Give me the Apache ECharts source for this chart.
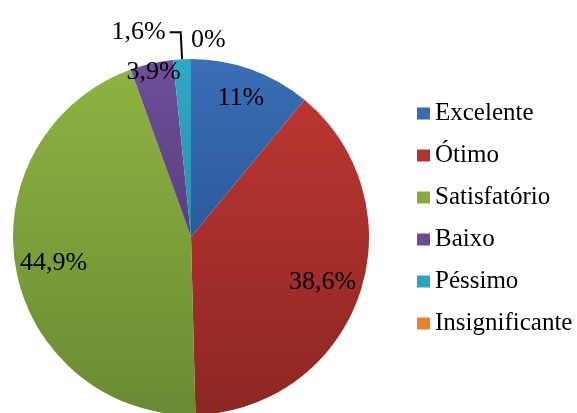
<!DOCTYPE html>
<html><head><meta charset="utf-8">
<script src="https://cdn.jsdelivr.net/npm/echarts@6/dist/echarts.min.js"></script>
<style>html,body{margin:0;padding:0;background:#fff}#c{width:577px;height:413px}</style>
</head><body><div id="c"></div>
<script>
const categories = ['Excelente', 'Ótimo', 'Satisfatório', 'Baixo', 'Péssimo', 'Insignificante'];
const values = [11, 38.6, 44.9, 3.9, 1.6, 0];
const valueLabels = ['11%', '38,6%', '44,9%', '3,9%', '1,6%', '0%'];

const colorTop = ['#3A6EB6', '#BA3631', '#8FB243', '#6F4F99', '#2FA8C8', '#F08A2E'];
const colorBottom = ['#2B5A9C', '#8C2724', '#6A8A32', '#5A3D80', '#2790AD', '#D8741E'];
const legendColors = ['#3A6AB0', '#B23430', '#86AA3F', '#6A4B94', '#2EA2C2', '#E8822A'];

const CX = 191, CY = 237, R = 178;
const labelRadius = [0.8, 0.756, 0.76, 0.92];
const FONT = 'Liberation Serif';

const data = categories.map(function (name, i) {
  const item = {
    name: name,
    value: values[i],
    itemStyle: {
      color: new echarts.graphic.LinearGradient(0, 0, 0, 1, [
        { offset: 0, color: colorTop[i] },
        { offset: 1, color: colorBottom[i] }
      ])
    },
    label: {
      show: true,
      formatter: valueLabels[i],
      fontFamily: FONT,
      fontSize: 26,
      color: '#000'
    }
  };
  if (i < 4) {
    item.label.position = 'inside';
    item.labelLine = { show: false };
  } else if (i === 4) {
    item.label.position = 'outside';
    item.label.distanceToLabelLine = 4;
    item.label.padding = [0, 0, 12, 0];
    item.labelLine = { show: true, length: 27, length2: 11, smooth: false,
      lineStyle: { color: '#000', width: 2 } };
  } else {
    item.label.position = 'outside';
    item.label.distanceToLabelLine = 0;
    item.labelLine = { show: false, length: 19, length2: 0 };
  }
  return item;
});

const legendText = { fontFamily: FONT, fontSize: 25, color: '#000', fontWeight: 'normal' };

const chart = echarts.init(document.getElementById('c'), null, { renderer: 'canvas' });
chart.setOption({
  animation: false,
  textStyle: { fontFamily: FONT },
  color: legendColors,
  legend: {
    orient: 'vertical',
    left: 417,
    top: 101,
    padding: 0,
    icon: 'rect',
    itemWidth: 13,
    itemHeight: 12,
    itemGap: 17,
    textStyle: legendText,
    data: categories.map(function (n, i) {
      return { name: n, itemStyle: { color: legendColors[i] }, textStyle: legendText };
    })
  },
  series: [{
    type: 'pie',
    center: [CX, CY],
    radius: R,
    startAngle: 90,
    clockwise: true,
    avoidLabelOverlap: false,
    minShowLabelAngle: 0,
    emphasis: { disabled: true },
    itemStyle: { borderWidth: 0 },
    labelLayout: function (p) {
      const k = labelRadius[p.dataIndex];
      if (k == null) return {};
      const lx = p.labelRect.x + p.labelRect.width / 2;
      const ly = p.labelRect.y + p.labelRect.height / 2;
      return { dx: (lx - CX) * (2 * k - 1), dy: (ly - CY) * (2 * k - 1) };
    },
    data: data
  }]
});
</script>
</body></html>
